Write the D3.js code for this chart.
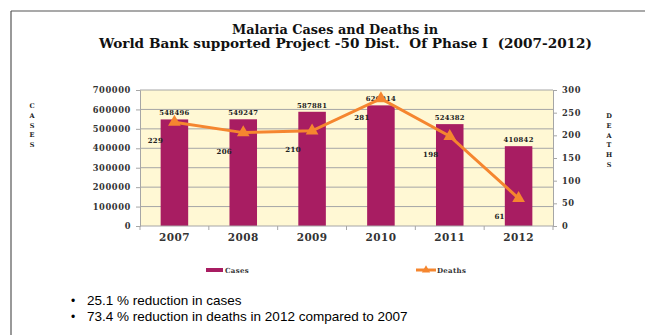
<!DOCTYPE html>
<html>
<head>
<meta charset="utf-8">
<script src="https://cdn.jsdelivr.net/npm/d3@7/dist/d3.min.js"></script>
<style>
  html, body { margin: 0; padding: 0; background: #fff; }
  svg { display: block; }
</style>
</head>
<body>
<svg id="chart" width="646" height="335"></svg>
<script>
const years = ["2007", "2008", "2009", "2010", "2011", "2012"];
const cases = [548496, 549247, 587881, 620914, 524382, 410842];
const deaths = [229, 206, 210, 281, 198, 61];
const caseTicks = [0, 100000, 200000, 300000, 400000, 500000, 600000, 700000];
const deathTicks = [0, 50, 100, 150, 200, 250, 300];
const titleLines = ["Malaria Cases and Deaths in", "World Bank supported Project -50 Dist.  Of Phase I  (2007-2012)"];
const bullets = ["25.1 % reduction in cases", "73.4 % reduction in deaths in 2012 compared to 2007"];

const svg = d3.select("#chart");
const W = 646, H = 335;
const plot = { left: 140, right: 553, top: 90, bottom: 226 };

const serif = "'DejaVu Serif', serif";
const barColor = "#A81D62";
const lineColor = "#F5862F";

// outer frame (top and left lines)
svg.append("line").attr("x1", 11).attr("y1", 11).attr("x2", 645).attr("y2", 11)
  .attr("stroke", "#555").attr("stroke-width", 1.2);
svg.append("line").attr("x1", 11).attr("y1", 11).attr("x2", 11).attr("y2", H)
  .attr("stroke", "#555").attr("stroke-width", 1.2);

// title
const titleStyle = [
  { x: 232, y: 34, len: 206 },
  { x: 99, y: 48, len: 493 }
];
titleLines.forEach((t, i) => {
  svg.append("text").attr("x", titleStyle[i].x).attr("y", titleStyle[i].y)
    .attr("font-family", serif).attr("font-weight", "bold")
    .attr("font-size", 12.5).attr("fill", "#111")
    .style("white-space", "pre")
    .attr("textLength", titleStyle[i].len).attr("lengthAdjust", "spacingAndGlyphs")
    .text(t);
});

const x = d3.scaleBand().domain(years).range([plot.left, plot.right]).paddingInner(0.6).paddingOuter(0.3);
const xc = d => x(d) + x.bandwidth() / 2;
const yL = d3.scaleLinear().domain([0, 700000]).range([plot.bottom, plot.top]);
const yR = d3.scaleLinear().domain([0, 300]).range([plot.bottom, plot.top]);

// plot background
svg.append("rect").attr("x", plot.left).attr("y", plot.top)
  .attr("width", plot.right - plot.left).attr("height", plot.bottom - plot.top)
  .attr("fill", "#FFF8D4");

// gridlines
svg.append("g").selectAll("line").data(caseTicks.filter(d => d > 0)).join("line")
  .attr("x1", plot.left).attr("x2", plot.right)
  .attr("y1", d => yL(d)).attr("y2", d => yL(d))
  .attr("stroke", "#A6A6A6").attr("stroke-width", 1);

// bars
svg.append("g").selectAll("rect").data(years).join("rect")
  .attr("x", d => x(d)).attr("width", x.bandwidth())
  .attr("y", (d, i) => yL(cases[i])).attr("height", (d, i) => yL(0) - yL(cases[i]))
  .attr("fill", barColor);

// left axis
const axL = svg.append("g").attr("transform", `translate(${plot.left},0)`)
  .call(d3.axisLeft(yL).tickValues(caseTicks).tickFormat(d3.format("d")).tickSize(4).tickPadding(5));
// right axis
const axR = svg.append("g").attr("transform", `translate(${plot.right},0)`)
  .call(d3.axisRight(yR).tickValues(deathTicks).tickFormat(d3.format("d")).tickSize(4).tickPadding(5));
// bottom axis
const axB = svg.append("g").attr("transform", `translate(0,${plot.bottom})`)
  .call(d3.axisBottom(x).tickSize(0).tickPadding(8));
// bottom category separator ticks
svg.append("g").selectAll("line").data(d3.range(years.length + 1)).join("line")
  .attr("x1", i => plot.left + i * x.step()).attr("x2", i => plot.left + i * x.step())
  .attr("y1", plot.bottom).attr("y2", plot.bottom + 4)
  .attr("stroke", "#A6A6A6");

[axL, axR, axB].forEach(a => {
  a.selectAll(".domain").attr("stroke", "#A6A6A6");
  a.selectAll(".tick line").attr("stroke", "#A6A6A6");
});
[axL, axR].forEach(a => {
  a.selectAll("text").attr("font-family", serif).attr("font-weight", "bold")
    .attr("font-size", 8.3).attr("fill", "#333").attr("letter-spacing", 0.6);
});
axB.selectAll("text").attr("font-family", serif).attr("font-weight", "bold")
  .attr("font-size", 10.5).attr("fill", "#333").attr("letter-spacing", 0.4);
axB.select(".domain").attr("d", `M${plot.left},0H${plot.right}`);

// case value labels
svg.append("g").selectAll("text").data(years).join("text")
  .attr("x", d => xc(d)).attr("y", (d, i) => yL(cases[i]) - 4)
  .attr("text-anchor", "middle")
  .attr("font-family", serif).attr("font-weight", "bold").attr("font-size", 6.8)
  .attr("letter-spacing", 0.3).attr("fill", "#222")
  .text((d, i) => cases[i]);

// deaths line
const line = d3.line().x(d => xc(d.year)).y(d => yR(d.v));
const pts = years.map((y, i) => ({ year: y, v: deaths[i] }));
svg.append("path").datum(pts).attr("d", line)
  .attr("fill", "none").attr("stroke", lineColor).attr("stroke-width", 3);
const tri = d3.symbol().type(d3.symbolTriangle).size(70);
svg.append("g").selectAll("path").data(pts).join("path")
  .attr("transform", d => `translate(${xc(d.year)},${yR(d.v)})`)
  .attr("d", tri).attr("fill", lineColor);

// death labels
svg.append("g").selectAll("text").data(pts).join("text")
  .attr("x", d => xc(d.year) - 19).attr("y", d => yR(d.v) + 21)
  .attr("text-anchor", "middle")
  .attr("font-family", serif).attr("font-weight", "bold").attr("font-size", 7)
  .attr("letter-spacing", 0.3).attr("fill", "#222")
  .text(d => d.v);

// vertical axis titles
function vertical(word, cx, top, step) {
  svg.append("g").selectAll("text").data(word.split("")).join("text")
    .attr("x", cx).attr("y", (d, i) => top + i * step)
    .attr("text-anchor", "middle")
    .attr("font-family", serif).attr("font-weight", "bold").attr("font-size", 6.5)
    .attr("fill", "#222").text(d => d);
}
vertical("CASES", 32, 108, 9.8);
vertical("DEATHS", 609, 118, 9.8);

// legend
const lg = svg.append("g");
lg.append("rect").attr("x", 206).attr("y", 268).attr("width", 17).attr("height", 4).attr("fill", barColor);
lg.append("text").attr("x", 225).attr("y", 273).text("Cases");
lg.append("line").attr("x1", 416).attr("x2", 436).attr("y1", 270).attr("y2", 270)
  .attr("stroke", lineColor).attr("stroke-width", 3);
lg.append("path").attr("transform", "translate(426,270)").attr("d", d3.symbol().type(d3.symbolTriangle).size(30)).attr("fill", lineColor);
lg.append("text").attr("x", 437).attr("y", 273).text("Deaths");
lg.selectAll("text").attr("font-family", serif).attr("font-weight", "bold")
  .attr("font-size", 7).attr("fill", "#333").attr("letter-spacing", 0.3);

// bullets
const bg = svg.append("g");
bullets.forEach((b, i) => {
  bg.append("text").attr("x", 71).attr("y", 305 + i * 15.5).text("•")
    .attr("font-family", "'Liberation Sans', Arial, sans-serif").attr("font-size", 12).attr("fill", "#000");
  bg.append("text").attr("x", 87).attr("y", 305 + i * 15.5).text(b)
    .attr("font-family", "'Liberation Sans', Arial, sans-serif").attr("font-size", 13.5).attr("fill", "#000");
});
</script>
</body>
</html>
